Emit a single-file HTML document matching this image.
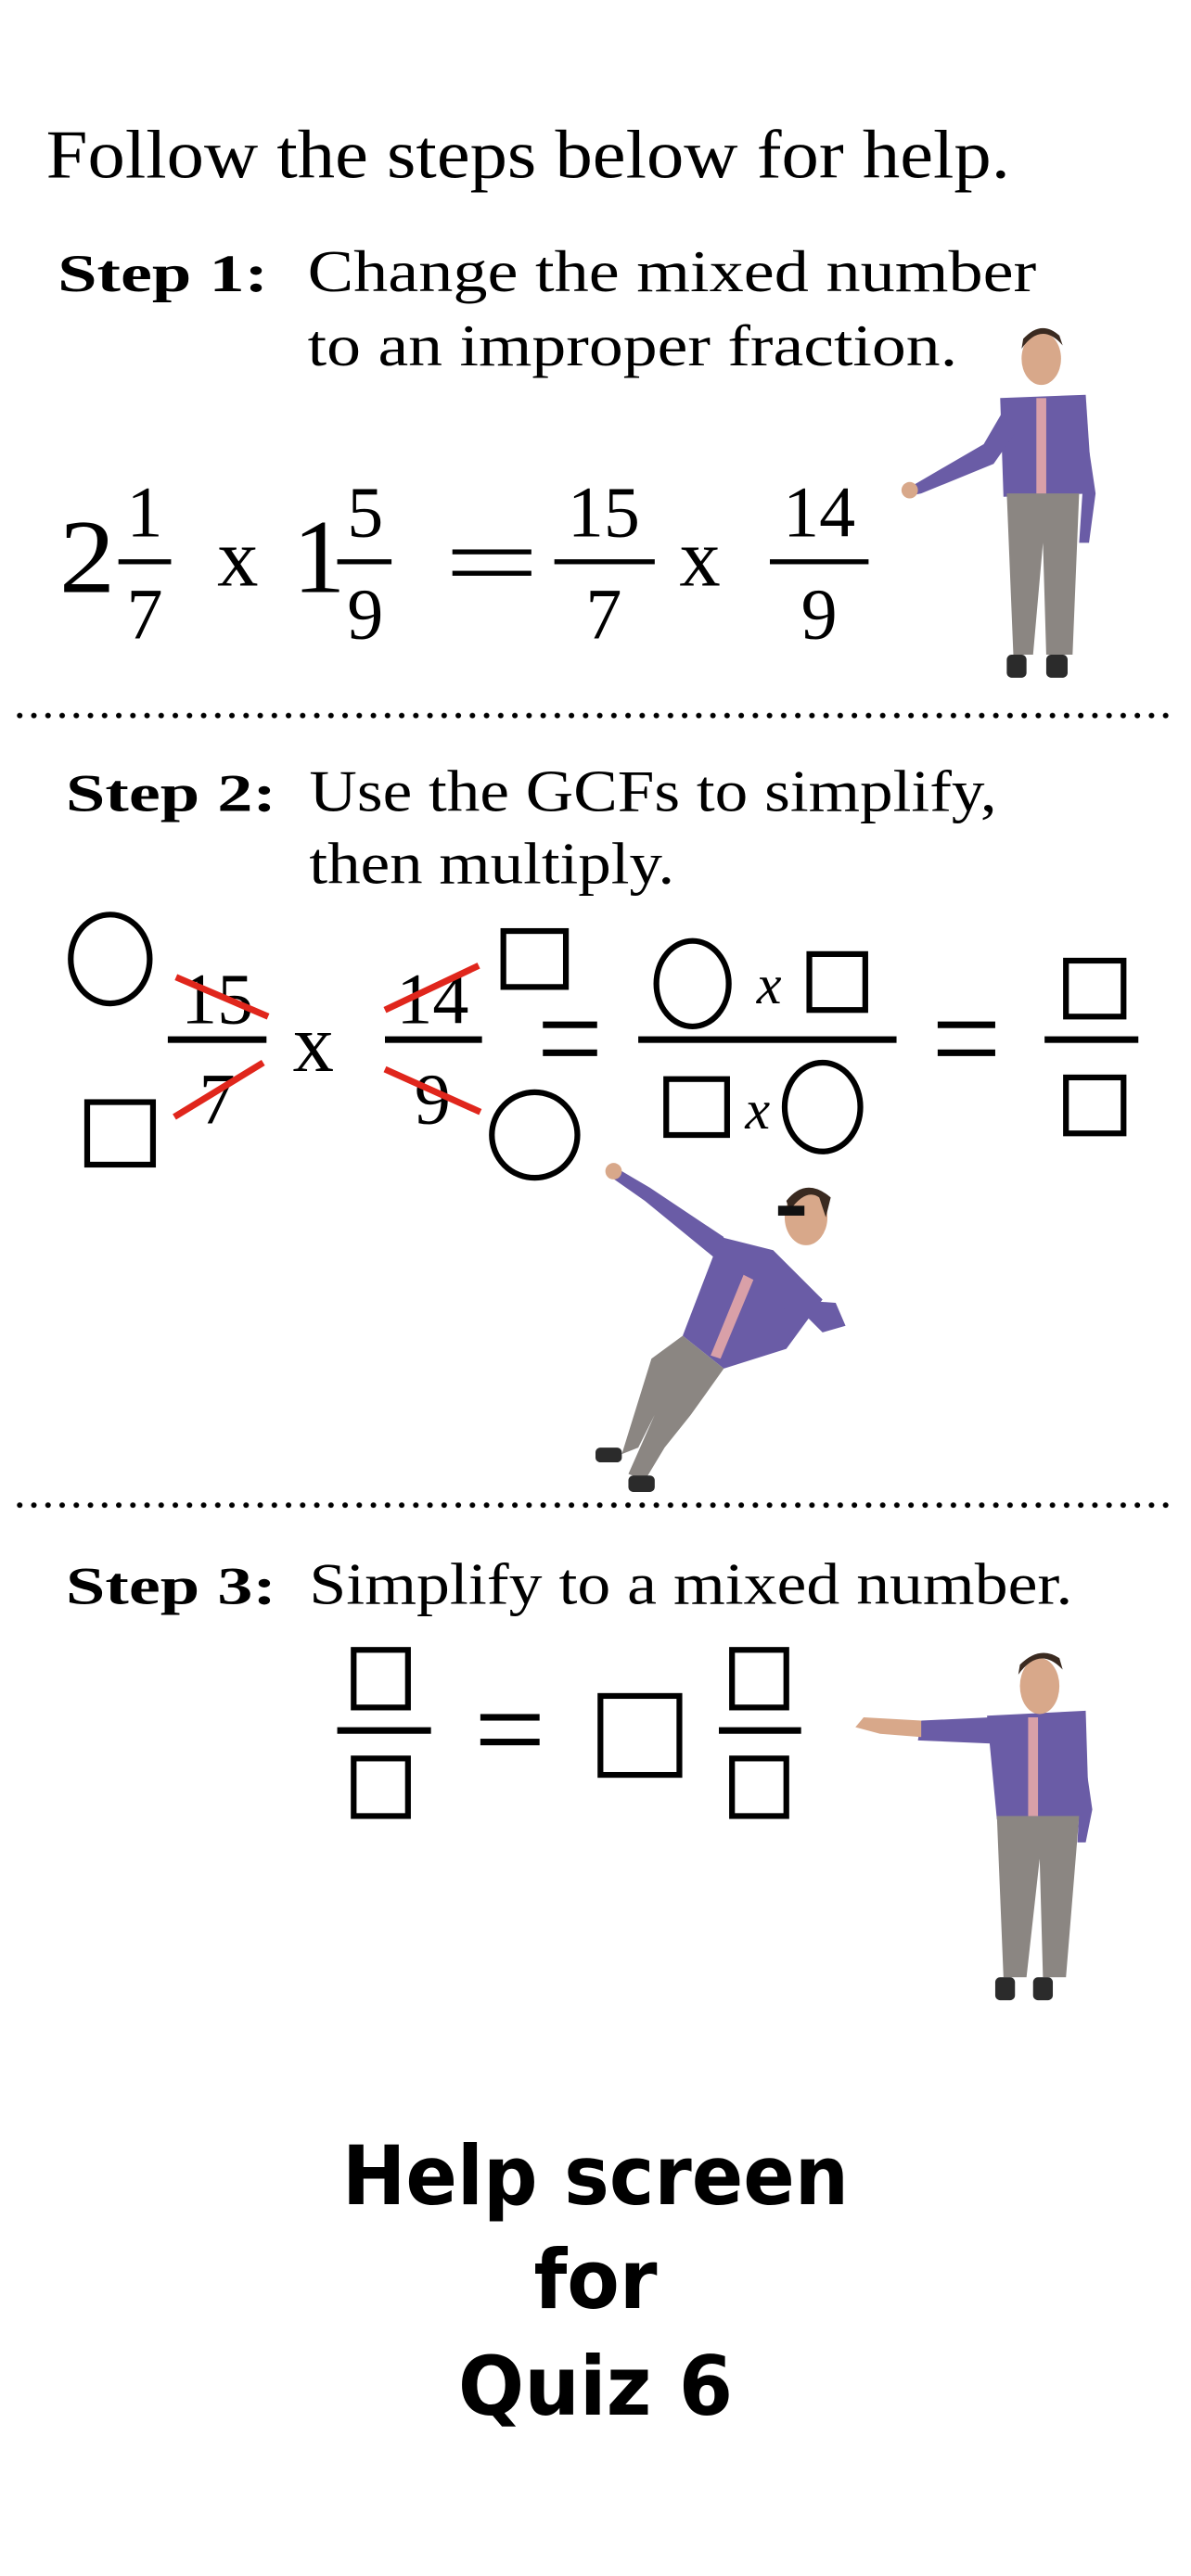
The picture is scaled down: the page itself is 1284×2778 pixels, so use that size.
<!DOCTYPE html>
<html><head><meta charset="utf-8"><style>
html,body{margin:0;padding:0;background:#fff;}
svg{display:block;}
.s{font-family:"Liberation Serif",serif;fill:#000;}
.b{font-family:"Liberation Serif",serif;font-weight:bold;fill:#000;}
.h{font-family:"DejaVu Sans","Liberation Sans",sans-serif;font-weight:bold;fill:#000;}
</style></head><body>
<svg width="1284" height="2778" viewBox="0 0 724 1566" preserveAspectRatio="none" xmlns="http://www.w3.org/2000/svg">
<defs>
<pattern id="dots" x="10" y="0" width="8.6" height="10" patternUnits="userSpaceOnUse"><circle cx="2" cy="5" r="1.7" fill="#000"/></pattern>
</defs>
<rect width="724" height="1566" fill="#fff"/>
<text class="s" x="28" y="108" font-size="42" textLength="586" lengthAdjust="spacingAndGlyphs">Follow the steps below for help.</text>

<text class="b" x="35" y="177" font-size="32" textLength="128" lengthAdjust="spacingAndGlyphs">Step 1:</text>
<text class="s" x="187" y="177" font-size="36" textLength="443" lengthAdjust="spacingAndGlyphs">Change the mixed number</text>
<text class="s" x="187" y="222" font-size="36" textLength="395" lengthAdjust="spacingAndGlyphs">to an improper fraction.</text>

<g class="s">
<text x="36" y="360" font-size="64" textLength="34" lengthAdjust="spacingAndGlyphs">2</text>
<text x="88" y="326" font-size="44" text-anchor="middle">1</text>
<rect x="72" y="340" width="32" height="3"/>
<text x="88" y="388" font-size="44" text-anchor="middle">7</text>
<text x="132" y="356" font-size="50">x</text>
<text x="178" y="360" font-size="64">1</text>
<text x="222" y="326" font-size="44" text-anchor="middle">5</text>
<rect x="205" y="340" width="33" height="3"/>
<text x="222" y="388" font-size="44" text-anchor="middle">9</text>
<rect x="275" y="334" width="48" height="3"/><rect x="275" y="347" width="48" height="3"/>
<text x="367" y="326" font-size="44" text-anchor="middle">15</text>
<rect x="337" y="340" width="61" height="3"/>
<text x="367" y="388" font-size="44" text-anchor="middle">7</text>
<text x="413" y="356" font-size="50">x</text>
<text x="498" y="326" font-size="44" text-anchor="middle">14</text>
<rect x="468" y="340" width="60" height="3"/>
<text x="498" y="388" font-size="44" text-anchor="middle">9</text>
</g>

<!-- person 1 -->
<g>
<path d="M608 242 L660 240 L664 300 L610 302 Z" fill="#6a5ca6"/>
<path d="M612 300 L656 300 L652 398 L636 398 L634 330 L628 398 L616 398 Z" fill="#8b8682"/>
<path d="M612 246 L598 270 L555 295 L550 302 L560 300 L604 282 L618 262 Z" fill="#6a5ca6"/>
<circle cx="553" cy="298" r="5" fill="#d8a88a"/>
<path d="M658 246 L666 300 L662 330 L656 330 L658 300 L652 260 Z" fill="#6a5ca6"/>
<ellipse cx="633" cy="218" rx="12" ry="16" fill="#d8a88a"/>
<path d="M621 212 Q633 195 646 210 L644 204 Q633 194 622 206 Z" fill="#3a2a20"/>
<rect x="630" y="242" width="6" height="58" fill="#d9a0a8"/>
<rect x="612" y="398" width="12" height="14" rx="3" fill="#2b2b2b"/>
<rect x="636" y="398" width="13" height="14" rx="3" fill="#2b2b2b"/>
</g>

<rect x="10" y="432" width="705" height="10" fill="url(#dots)"/>

<text class="b" x="40" y="493" font-size="32" textLength="128" lengthAdjust="spacingAndGlyphs">Step 2:</text>
<text class="s" x="188" y="493" font-size="36" textLength="418" lengthAdjust="spacingAndGlyphs">Use the GCFs to simplify,</text>
<text class="s" x="188" y="537" font-size="36" textLength="222" lengthAdjust="spacingAndGlyphs">then multiply.</text>

<g fill="none" stroke="#000" stroke-width="3.5">
<ellipse cx="67" cy="583" rx="24" ry="27"/>
<rect x="53" y="670" width="40" height="38"/>
<rect x="306" y="566" width="38" height="34"/>
<ellipse cx="325" cy="690" rx="26" ry="26"/>
<ellipse cx="421" cy="598" rx="22" ry="26"/>
<rect x="492" y="580" width="34" height="34"/>
<rect x="405" y="656" width="37" height="34"/>
<ellipse cx="500" cy="673" rx="23" ry="27"/>
<rect x="648" y="584" width="35" height="34"/>
<rect x="648" y="655" width="35" height="34"/>
</g>
<g class="s">
<text x="132" y="622" font-size="44" text-anchor="middle">15</text>
<rect x="102" y="630" width="60" height="4"/>
<text x="132" y="683" font-size="44" text-anchor="middle">7</text>
<text x="178" y="651" font-size="50">x</text>
<text x="263" y="622" font-size="44" text-anchor="middle">14</text>
<rect x="234" y="630" width="59" height="4"/>
<text x="263" y="683" font-size="44" text-anchor="middle">9</text>
<rect x="330" y="621" width="33" height="4"/><rect x="330" y="638" width="33" height="4"/>
<rect x="388" y="630" width="157" height="4"/>
<text x="460" y="610" font-size="34" font-style="italic">x</text>
<text x="453" y="686" font-size="34" font-style="italic">x</text>
<rect x="570" y="621" width="35" height="4"/><rect x="570" y="638" width="35" height="4"/>
<rect x="635" y="630" width="57" height="4"/>
</g>
<g stroke="#e0261c" stroke-width="4" stroke-linecap="butt">
<line x1="107" y1="594" x2="163" y2="618"/>
<line x1="106" y1="679" x2="160" y2="646"/>
<line x1="234" y1="614" x2="291" y2="587"/>
<line x1="234" y1="650" x2="292" y2="676"/>
</g>

<!-- person 2 -->
<g>
<path d="M438 752 L415 812 L440 832 L478 820 L500 790 L470 760 Z" fill="#6a5ca6"/>
<path d="M440 752 L395 722 L378 712 L372 716 L392 730 L436 766 Z" fill="#6a5ca6"/>
<circle cx="373" cy="712" r="5" fill="#d8a88a"/>
<path d="M478 790 L508 792 L514 806 L500 810 L490 800 L475 804 Z" fill="#6a5ca6"/>
<path d="M415 812 L440 832 L420 860 L404 880 L392 900 L382 896 L398 860 L388 880 L378 884 L396 826 Z" fill="#8b8682"/>
<ellipse cx="490" cy="740" rx="13" ry="17" fill="#d8a88a"/>
<path d="M478 730 Q490 715 505 728 L502 740 L498 728 Q490 722 480 736 Z" fill="#3a2a20"/>
<rect x="473" y="733" width="16" height="6" fill="#111"/>
<path d="M452 775 L458 778 L438 826 L432 824 Z" fill="#d9a0a8"/>
<rect x="362" y="880" width="16" height="9" rx="3" fill="#2b2b2b"/>
<rect x="382" y="897" width="16" height="10" rx="3" fill="#2b2b2b"/>
</g>

<rect x="10" y="912" width="705" height="10" fill="url(#dots)"/>

<text class="b" x="40" y="975" font-size="32" textLength="128" lengthAdjust="spacingAndGlyphs">Step 3:</text>
<text class="s" x="188" y="975" font-size="36" textLength="464" lengthAdjust="spacingAndGlyphs">Simplify to a mixed number.</text>

<g fill="none" stroke="#000" stroke-width="3.5">
<rect x="215" y="1003" width="33" height="35"/>
<rect x="215" y="1069" width="33" height="35"/>
<rect x="365" y="1031" width="48" height="48"/>
<rect x="445" y="1003" width="33" height="35"/>
<rect x="445" y="1069" width="33" height="35"/>
</g>
<g>
<rect x="205" y="1050" width="57" height="4"/>
<rect x="292" y="1042" width="36" height="4"/><rect x="292" y="1057" width="36" height="4"/>
<rect x="437" y="1050" width="50" height="4"/>
</g>

<!-- person 3 -->
<g>
<path d="M600 1043 L660 1040 L662 1105 L606 1106 Z" fill="#6a5ca6"/>
<path d="M602 1044 L560 1046 L558 1058 L604 1060 Z" fill="#6a5ca6"/>
<path d="M560 1046 L525 1044 L520 1050 L535 1054 L560 1056 Z" fill="#d8a88a"/>
<path d="M656 1045 L664 1100 L660 1120 L655 1120 L656 1100 Z" fill="#6a5ca6"/>
<path d="M606 1104 L656 1104 L648 1202 L634 1202 L632 1130 L624 1202 L610 1202 Z" fill="#8b8682"/>
<ellipse cx="632" cy="1025" rx="12" ry="17" fill="#d8a88a"/>
<path d="M619 1018 Q632 1000 646 1015 L644 1008 Q632 1000 620 1012 Z" fill="#3a2a20"/>
<rect x="625" y="1044" width="6" height="60" fill="#d9a0a8"/>
<rect x="605" y="1202" width="12" height="14" rx="3" fill="#2b2b2b"/>
<rect x="628" y="1202" width="12" height="14" rx="3" fill="#2b2b2b"/>
</g>

<text class="h" x="362" y="1340" font-size="50" text-anchor="middle" textLength="308" lengthAdjust="spacingAndGlyphs">Help screen</text>
<text class="h" x="362" y="1403" font-size="50" text-anchor="middle" textLength="75" lengthAdjust="spacingAndGlyphs">for</text>
<text class="h" x="362" y="1468" font-size="50" text-anchor="middle" textLength="167" lengthAdjust="spacingAndGlyphs">Quiz 6</text>
</svg>
</body></html>
